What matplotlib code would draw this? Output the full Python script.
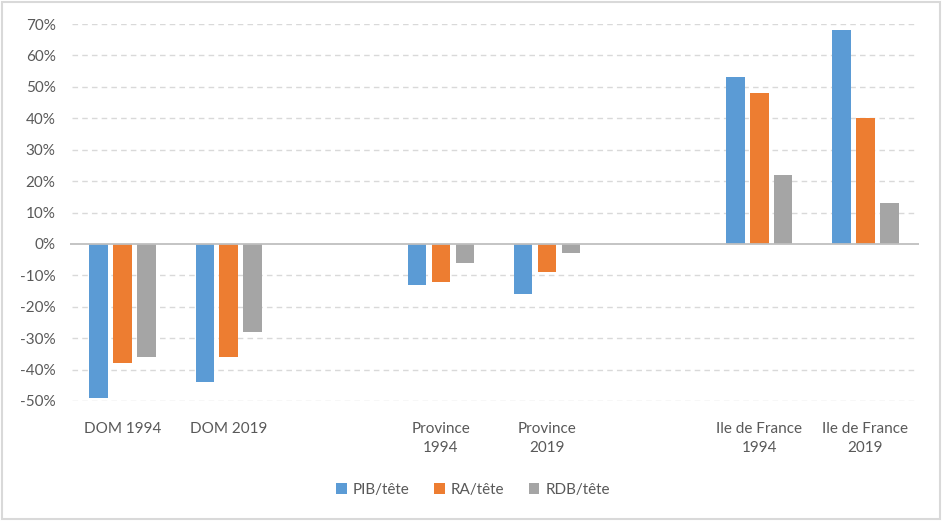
import matplotlib.pyplot as plt
from matplotlib.patches import Rectangle
import numpy as np

plt.rcParams['font.family'] = ['Lato', 'DejaVu Sans']

categories = ['DOM 1994', 'DOM 2019', '', 'Province\n1994', 'Province\n2019', '',
              'Ile de France\n1994', 'Ile de France\n2019']
series = ['PIB/tête', 'RA/tête', 'RDB/tête']
pib = [-49, -44, None, -13, -16, None, 53, 68]
ra = [-38, -36, None, -12, -9, None, 48, 40]
rdb = [-36, -28, None, -6, -3, None, 22, 13]
colors = ['#5B9BD5', '#ED7D31', '#A5A5A5']
yticks = list(range(-50, 80, 10))

fig = plt.figure(figsize=(9.42, 5.21), dpi=100)
ax = fig.add_axes([69.5 / 942, 1 - 401 / 521, 849 / 942, 377 / 521])

x = np.arange(len(categories))
offsets = [-0.225, 0, 0.225]
for vals, off, col, name in zip([pib, ra, rdb], offsets, colors, series):
    xs = [xi + off for xi, v in zip(x, vals) if v is not None]
    vs = [v for v in vals if v is not None]
    ax.bar(xs, vs, width=0.175, color=col, label=name, zorder=3)

ax.set_xlim(-0.5, len(categories) - 0.5)
ax.set_ylim(-50, 70)
ax.set_yticks(yticks)
ax.set_yticklabels([f'{t}%' for t in yticks])
for t in yticks:
    if t == 0:
        ax.axhline(0, color='#BFBFBF', lw=1.3, zorder=4)
    else:
        ax.axhline(t, xmin=0.003, xmax=0.997, color='#D9D9D9', lw=1,
                   ls=(0, (4, 3)), zorder=1)

ax.set_xticks(x)
ax.set_xticklabels(categories, linespacing=1.5)
ax.tick_params(axis='both', length=0, colors='#595959', labelsize=11)
ax.tick_params(axis='x', pad=15)
ax.tick_params(axis='y', pad=10)
for s in ax.spines.values():
    s.set_visible(False)

leg = ax.legend(loc='center', bbox_to_anchor=(473 / 942, 1 - 490 / 521),
                bbox_transform=fig.transFigure, ncol=3, frameon=False,
                handlelength=0.7, handleheight=0.7, handletextpad=0.4,
                columnspacing=1.6, fontsize=11)
for t in leg.get_texts():
    t.set_color('#595959')

fig.patches.append(Rectangle((0.002, 0.003), 0.996, 0.994, transform=fig.transFigure,
                             fill=False, edgecolor='#D9D9D9', lw=1.5))

fig.savefig('out.png', dpi=100)
